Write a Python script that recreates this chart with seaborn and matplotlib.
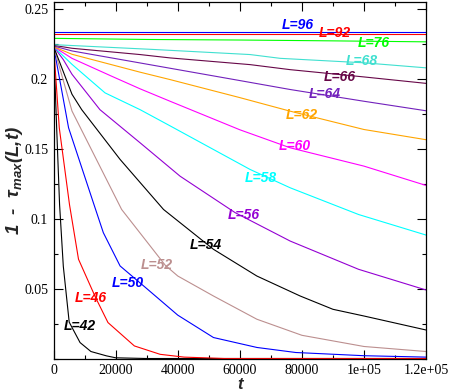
import matplotlib
matplotlib.use("Agg")
import matplotlib.pyplot as plt
from matplotlib.ticker import MultipleLocator, FixedLocator, FixedFormatter
import seaborn as sns
import pandas as pd

# ---- data ----
t_42 = [0, 960, 1900, 3100, 5000, 8500, 12000, 17000, 20000, 30000, 60000, 120000]
v_42 = [0.223, 0.165, 0.110, 0.066, 0.026, 0.0114, 0.005, 0.0019, 0.0005, 0.0, 0.0, 0.0]

t_46 = [0, 1800, 5100, 8000, 13500, 17500, 26000, 34300, 42000, 55000, 120000]
v_46 = [0.223, 0.165, 0.110, 0.071, 0.0436, 0.0257, 0.009, 0.003, 0.001, 0.0, 0.0]

t_50 = [0, 4800, 13000, 16000, 21400, 30000, 40000, 51500, 65500, 78000, 100000, 120000]
v_50 = [0.223, 0.165, 0.110, 0.090, 0.0662, 0.050, 0.031, 0.015, 0.0079, 0.0043, 0.002, 0.001]

t_52 = [0, 5900, 21900, 36000, 40000, 51500, 65480, 80000, 100000, 120000]
v_52 = [0.223, 0.177, 0.1066, 0.0666, 0.059, 0.0447, 0.0281, 0.0166, 0.0086, 0.005]

t_54 = [0, 5900, 9030, 21400, 35400, 51500, 65480, 79450, 90000, 100000, 120000]
v_54 = [0.223, 0.189, 0.178, 0.1424, 0.1066, 0.0781, 0.059, 0.0447, 0.0352, 0.0304, 0.0204]

t_56 = [0, 3100, 5900, 14900, 27840, 40740, 58500, 76230, 98260, 120000]
v_56 = [0.223, 0.2138, 0.2033, 0.178, 0.1543, 0.1304, 0.1043, 0.084, 0.0638, 0.049]

t_58 = [0, 5900, 16550, 27840, 37520, 63320, 76230, 98260, 120000]
v_58 = [0.223, 0.2104, 0.190, 0.178, 0.1664, 0.1352, 0.1221, 0.103, 0.0883]

t_60 = [0, 5900, 18700, 27840, 37520, 60000, 76230, 100000, 120000]
v_60 = [0.223, 0.2147, 0.2019, 0.1929, 0.184, 0.1636, 0.1507, 0.1376, 0.1238]

t_62 = [0, 5900, 27840, 37520, 60000, 76230, 100000, 120000]
v_62 = [0.223, 0.2176, 0.2048, 0.1995, 0.1866, 0.1769, 0.1638, 0.1565]

t_64 = [0, 5900, 27840, 60000, 76230, 100000, 120000]
v_64 = [0.2235, 0.220, 0.2114, 0.1988, 0.1924, 0.184, 0.1772]

t_66 = [0, 5900, 27840, 37520, 63320, 76230, 100000, 120000]
v_66 = [0.224, 0.2219, 0.2174, 0.215, 0.2102, 0.2066, 0.2014, 0.1968]

t_68 = [0, 31700, 63320, 73000, 100000, 120000]
v_68 = [0.2245, 0.2211, 0.2174, 0.2147, 0.2115, 0.2079]

t_76 = [0, 30000, 60000, 90000, 120000]
v_76 = [0.2290, 0.2282, 0.2278, 0.2272, 0.2265]

t_92 = [0, 60000, 120000]
v_92 = [0.2322, 0.2322, 0.2322]

t_96 = [0, 60000, 120000]
v_96 = [0.2332, 0.2332, 0.2332]

sizes = [42, 46, 50, 52, 54, 56, 58, 60, 62, 64, 66, 68, 76, 92, 96]
series_t = [t_42, t_46, t_50, t_52, t_54, t_56, t_58, t_60, t_62, t_64, t_66, t_68, t_76, t_92, t_96]
series_v = [v_42, v_46, v_50, v_52, v_54, v_56, v_58, v_60, v_62, v_64, v_66, v_68, v_76, v_92, v_96]
colors = ["#000000", "#ff0000", "#0000ff", "#bc8f8f", "#000000", "#9400d3",
          "#00ffff", "#ff00ff", "#ffa500", "#7221bc", "#670748", "#40e0d0",
          "#00ff00", "#ff0000", "#0000ff"]
# label positions (t, value)
label_t = [8260, 11930, 23740, 33230, 49030, 61160, 66770, 77840, 80000, 87500, 92350, 99350, 103100, 90700, 78800]
label_v = [0.0233, 0.0431, 0.0538, 0.0669, 0.0812, 0.1024, 0.1293, 0.1519, 0.1745, 0.1893, 0.2014, 0.2126, 0.2257, 0.2329, 0.2388]

x_ticks = [0, 20000, 40000, 60000, 80000, 100000, 120000]
x_ticklabels = ["0", "20000", "40000", "60000", "80000", "1e+05", "1.2e+05"]
y_ticks = [0.05, 0.1, 0.15, 0.2, 0.25]
y_ticklabels = ["0.05", "0.1", "0.15", "0.2", "0.25"]

# ---- plotting ----
sns.set_style("ticks")
plt.rcParams["font.family"] = ["Liberation Sans", "DejaVu Sans"]
plt.rcParams["font.serif"] = ["Liberation Serif", "DejaVu Serif"]
plt.rcParams["mathtext.fontset"] = "custom"
plt.rcParams["mathtext.it"] = "Liberation Sans:italic:bold"
plt.rcParams["mathtext.rm"] = "Liberation Sans:bold"

fig = plt.figure(figsize=(4.5, 3.91), dpi=100)
ax = fig.add_axes([0.1193, 0.0831, 0.9467 - 0.1193, 0.9949 - 0.0831])

for L, tt, vv, c in zip(sizes, series_t, series_v, colors):
    df = pd.DataFrame({"t": tt, "v": vv})
    sns.lineplot(data=df, x="t", y="v", color=c, lw=0.8, ax=ax, estimator=None, sort=False)

for L, lt, lv, c in zip(sizes, label_t, label_v, colors):
    ax.text(lt, lv, f"L={L}", color=c, fontsize=10, fontweight="bold", fontstyle="italic",
            ha="center", va="center", family="Liberation Sans")

ax.set_xlim(0, 120000)
ax.set_ylim(0, 0.255)
ax.xaxis.set_major_locator(FixedLocator(x_ticks))
ax.xaxis.set_major_formatter(FixedFormatter(x_ticklabels))
ax.xaxis.set_minor_locator(MultipleLocator(10000))
ax.yaxis.set_major_locator(FixedLocator(y_ticks))
ax.yaxis.set_major_formatter(FixedFormatter(y_ticklabels))
ax.yaxis.set_minor_locator(MultipleLocator(0.025))

ax.tick_params(which="both", direction="in", top=True, right=True, width=0.8, colors="black",
               labelsize=10)
ax.tick_params(which="major", length=6.5, pad=4)
ax.tick_params(which="minor", length=3.2)
fig.canvas.draw()
for lab in ax.get_xticklabels() + ax.get_yticklabels():
    lab.set_fontfamily("serif")
for s in ax.spines.values():
    s.set_visible(True)
    s.set_linewidth(0.9)
    s.set_color("black")

ax.set_xlabel("t", fontsize=12, fontweight="bold", fontstyle="italic", labelpad=0)
ax.set_ylabel(r"1  -  τ$_{max}$(L,t)", fontsize=13.5, fontweight="bold", fontstyle="italic")
ax.yaxis.set_label_coords(-0.076, 0.5)

fig.savefig("out.png", dpi=100)
